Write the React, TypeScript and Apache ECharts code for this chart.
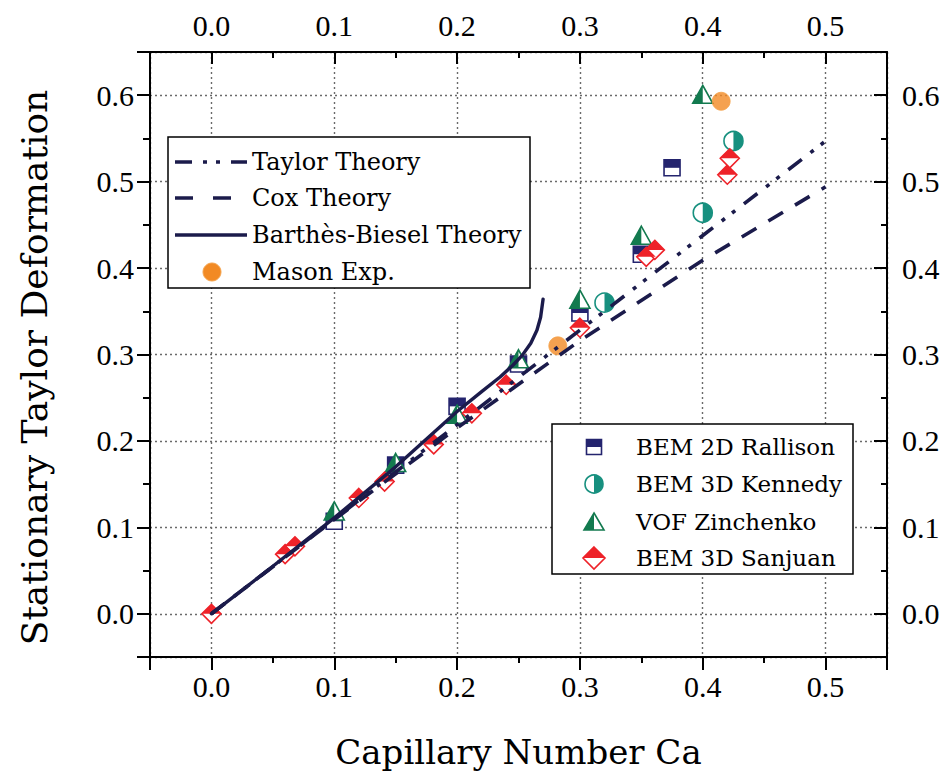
import { useEffect, useRef } from "react";
import * as echarts from "echarts";

// ---------- data (Ca, D) ----------
const rallison2D: [number, number][] = [
  [0.1, 0.107], [0.15, 0.172], [0.2, 0.24], [0.25, 0.289], [0.3, 0.348], [0.35, 0.416], [0.375, 0.516],
];
const kennedy3D: [number, number][] = [
  [0.32, 0.36], [0.4, 0.464], [0.425, 0.547],
];
const zinchenkoVOF: [number, number][] = [
  [0.1, 0.119], [0.15, 0.175], [0.2, 0.231], [0.25, 0.295], [0.3, 0.364], [0.35, 0.438], [0.4, 0.601],
];
const sanjuan3D: [number, number][] = [
  [0, 0], [0.06, 0.069], [0.068, 0.078], [0.12, 0.134], [0.141, 0.153], [0.181, 0.196], [0.212, 0.232],
  [0.24, 0.265], [0.3, 0.331], [0.354, 0.413], [0.361, 0.421], [0.42, 0.508], [0.422, 0.527],
];
const masonExp: [number, number][] = [
  [0.282, 0.31], [0.415, 0.593],
];
const taylorTheory: [number, number][] = [
  [0, 0], [0.5, 0.547],
];
const coxTheory: [number, number][] = [
  [0, 0], [0.1, 0.109], [0.2, 0.215], [0.3, 0.316], [0.4, 0.409], [0.5, 0.494],
];
const barthesBiesel: [number, number][] = [
  [0, 0], [0.05, 0.055], [0.1, 0.111], [0.15, 0.17], [0.2, 0.234], [0.22, 0.257],
  [0.235, 0.274], [0.245, 0.287], [0.253, 0.299], [0.26, 0.313], [0.265, 0.328],
  [0.268, 0.343], [0.27, 0.364],
];

const xTitle = "Capillary Number Ca";
const yTitle = "Stationary Taylor Deformation";
const lineLegend = ["Taylor Theory", "Cox Theory", "Barthès-Biesel Theory", "Mason Exp."];
const markerLegend = ["BEM 2D Rallison", "BEM 3D Kennedy", "VOF Zinchenko", "BEM 3D Sanjuan"];

// ---------- styles ----------
const NAVY = "#24246e";
const TEAL = "#17907f";
const GREEN = "#137a4f";
const RED = "#ee2229";
const ORANGE = "#f28a24";
const LINE = "#1b1b4b";
const INK = "#000";

const tickFont = { fontFamily: "Liberation Serif", fontSize: 30, color: INK };
const titleFont = { fontFamily: "DejaVu Serif", fontSize: 34, color: INK };

const fmt = (v: number) => {
  const r = Math.round(v * 10) / 10;
  return Math.abs(v - r) < 1e-6 ? Math.abs(r).toFixed(1) : "";
};

function halfSeries(name: string, data: [number, number][], full: string, half: string,
  size: [number, number], halfSize: [number, number], offset: any[], color: string) {
  return [
    {
      type: "scatter", name, data, symbol: full, symbolSize: size, silent: true,
      itemStyle: { color: "#fff", borderColor: color, borderWidth: 1.6, opacity: 1 },
    },
    {
      type: "scatter", name: name + " fill", data, symbol: half, symbolSize: halfSize,
      symbolOffset: offset, silent: true,
      itemStyle: { color, borderWidth: 0, opacity: 1 },
    },
  ];
}

export default function App() {
  const ref = useRef<HTMLDivElement>(null);
  useEffect(() => {
    if (!ref.current) return;
    const chart = echarts.init(ref.current, undefined, { renderer: "svg" });

    const axisLine = { show: true, onZero: false, lineStyle: { color: INK, width: 2 } };
    const xBase = { type: "value", min: -0.05, max: 0.55, minInterval: 0.1, maxInterval: 0.1, splitNumber: 6 };
    const yBase = { type: "value", min: -0.05, max: 0.65, minInterval: 0.1, maxInterval: 0.1, splitNumber: 7 };
    const grid = { type: [2, 3], color: "#6a6a6a", width: 1.4 };

    const l1 = { x: 168, y: 137, w: 362, h: 151 };
    const l1rows = [162, 198, 235, 272];
    const l2 = { x: 552, y: 424, w: 301, h: 150 };
    const l2rows = [447, 484, 522, 558];
    const mx = 594;
    const legendText = (t: string, x: number, y: number, size: number) => ({
      type: "text", x, y, z: 101,
      style: { text: t, fontFamily: "DejaVu Serif", fontSize: size, fill: INK, verticalAlign: "middle", align: "left" },
    });

    const option: any = {
      animation: false,
      backgroundColor: "#fff",
      grid: { left: 150, right: 61, top: 52, bottom: 117, containLabel: false },
      xAxis: [
        {
          ...xBase, position: "bottom", axisLine,
          axisTick: { show: true, inside: false, length: 13, lineStyle: { color: INK, width: 2 } },
          minorTick: { show: true, splitNumber: 2, length: 6, lineStyle: { color: INK, width: 2 } },
          axisLabel: { ...tickFont, margin: 14, formatter: fmt },
          splitLine: { show: true, lineStyle: grid },
          name: xTitle, nameLocation: "middle", nameGap: 78, nameTextStyle: titleFont,
        },
        {
          ...xBase, position: "top", axisLine,
          axisTick: { show: true, inside: true, length: 12, lineStyle: { color: INK, width: 2 } },
          minorTick: { show: true, splitNumber: 2, length: 6, lineStyle: { color: INK, width: 2 } },
          axisLabel: { ...tickFont, margin: 12, formatter: fmt },
          splitLine: { show: false },
        },
      ],
      yAxis: [
        {
          ...yBase, position: "left", axisLine,
          axisTick: { show: true, inside: false, length: 13, lineStyle: { color: INK, width: 2 } },
          minorTick: { show: true, splitNumber: 2, length: 7, lineStyle: { color: INK, width: 2 } },
          axisLabel: { ...tickFont, margin: 16, formatter: fmt },
          splitLine: { show: true, lineStyle: grid },
          name: yTitle, nameLocation: "middle", nameGap: 98,
          nameTextStyle: { ...titleFont, fontSize: 36, padding: [0, 26, 0, 0] },
        },
        {
          ...yBase, position: "right", axisLine,
          axisTick: { show: true, inside: true, length: 13, lineStyle: { color: INK, width: 2 } },
          minorTick: { show: true, splitNumber: 2, length: 6, lineStyle: { color: INK, width: 2 } },
          axisLabel: { ...tickFont, margin: 15, formatter: fmt },
          splitLine: { show: false },
        },
      ],
      series: [
        ...halfSeries(markerLegend[0], rallison2D, "rect", "path://M0,0 H20 V10 H0 Z",
          [16, 16], [16, 8], [0, "-50%"], NAVY),
        ...halfSeries(markerLegend[1], kennedy3D, "circle", "path://M0,0 A10,10 0 0 1 0,20 Z",
          [19, 19], [9.5, 19], ["50%", 0], TEAL),
        ...halfSeries(markerLegend[2], zinchenkoVOF, "triangle", "path://M10,0 L10,20 L0,20 Z",
          [20, 18], [10, 18], ["-50%", 0], GREEN),
        ...halfSeries(markerLegend[3], sanjuan3D, "diamond", "path://M0,10 L10,0 L20,10 Z",
          [19, 19], [19, 9.5], [0, "-50%"], RED),
        {
          type: "scatter", name: lineLegend[3], data: masonExp, symbol: "circle", symbolSize: 18, silent: true,
          itemStyle: { color: ORANGE, borderColor: "#f5a24a", borderWidth: 1 },
        },
        {
          type: "line", name: lineLegend[0], data: taylorTheory, symbol: "none", silent: true,
          lineStyle: { color: LINE, width: 3.6, type: [17, 11, 4, 9, 4, 11] },
        },
        {
          type: "line", name: lineLegend[1], data: coxTheory, symbol: "none", silent: true,
          lineStyle: { color: LINE, width: 3.6, type: [17, 14] },
        },
        {
          type: "line", name: lineLegend[2], data: barthesBiesel, symbol: "none", silent: true,
          lineStyle: { color: LINE, width: 3.4, join: "round", cap: "round" },
        },
      ],
      graphic: [
        // legend 1
        { type: "rect", z: 100, shape: { x: l1.x, y: l1.y, width: l1.w, height: l1.h },
          style: { fill: "#fff", stroke: INK, lineWidth: 1.5 } },
        { type: "line", z: 101, shape: { x1: 175, y1: l1rows[0], x2: 247, y2: l1rows[0] },
          style: { stroke: LINE, lineWidth: 3.6, lineDash: [17, 11, 4, 9, 4, 11] } },
        { type: "line", z: 101, shape: { x1: 175, y1: l1rows[1], x2: 231, y2: l1rows[1] },
          style: { stroke: LINE, lineWidth: 3.6, lineDash: [18, 20] } },
        { type: "line", z: 101, shape: { x1: 175, y1: l1rows[2], x2: 247, y2: l1rows[2] },
          style: { stroke: LINE, lineWidth: 3.6 } },
        { type: "circle", z: 101, shape: { cx: 212, cy: l1rows[3], r: 9 },
          style: { fill: ORANGE, stroke: "#f5a24a", lineWidth: 1 } },
        ...lineLegend.map((t, i) => legendText(t, 252, l1rows[i], 24)),
        // legend 2
        { type: "rect", z: 100, shape: { x: l2.x, y: l2.y, width: l2.w, height: l2.h },
          style: { fill: "#fff", stroke: INK, lineWidth: 1.5 } },
        { type: "rect", z: 101, shape: { x: mx - 7.5, y: l2rows[0] - 7.5, width: 15, height: 15 },
          style: { fill: "#fff", stroke: NAVY, lineWidth: 1.6 } },
        { type: "rect", z: 102, shape: { x: mx - 7.5, y: l2rows[0] - 7.5, width: 15, height: 7.5 },
          style: { fill: NAVY } },
        { type: "circle", z: 101, shape: { cx: mx, cy: l2rows[1], r: 9 },
          style: { fill: "#fff", stroke: TEAL, lineWidth: 1.6 } },
        { type: "sector", z: 102, shape: { cx: mx, cy: l2rows[1], r: 9, r0: 0, startAngle: -Math.PI / 2, endAngle: Math.PI / 2, clockwise: true },
          style: { fill: TEAL } },
        { type: "polygon", z: 101, shape: { points: [[mx, l2rows[2] - 9], [mx + 10, l2rows[2] + 8], [mx - 10, l2rows[2] + 8]] },
          style: { fill: "#fff", stroke: GREEN, lineWidth: 1.6 } },
        { type: "polygon", z: 102, shape: { points: [[mx, l2rows[2] - 9], [mx, l2rows[2] + 8], [mx - 10, l2rows[2] + 8]] },
          style: { fill: GREEN } },
        { type: "polygon", z: 101, shape: { points: [[mx, l2rows[3] - 11], [mx + 11, l2rows[3]], [mx, l2rows[3] + 11], [mx - 11, l2rows[3]]] },
          style: { fill: "#fff", stroke: RED, lineWidth: 1.6 } },
        { type: "polygon", z: 102, shape: { points: [[mx - 11, l2rows[3]], [mx, l2rows[3] - 11], [mx + 11, l2rows[3]]] },
          style: { fill: RED } },
        ...markerLegend.map((t, i) => legendText(t, 636, l2rows[i], 23)),
      ],
    };
    chart.setOption(option);
    return () => chart.dispose();
  }, []);
  return (
    <div
      ref={ref}
      style={{ position: "absolute", left: 0, top: 0, width: 948, height: 774, background: "#fff" }}
    />
  );
}
